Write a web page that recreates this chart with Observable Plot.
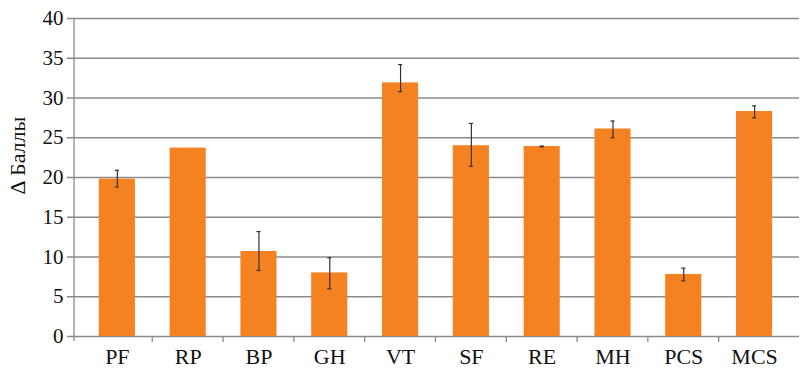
<!DOCTYPE html>
<html>
<head>
<meta charset="utf-8">
<script src="https://cdn.jsdelivr.net/npm/d3@7"></script>
<script src="https://cdn.jsdelivr.net/npm/@observablehq/plot@0.6"></script>
<style>
  html, body { margin: 0; padding: 0; background: #fff; }
  #chart svg { display: block; }
</style>
</head>
<body>
<div id="chart"></div>
<script>
const categories = ["PF", "RP", "BP", "GH", "VT", "SF", "RE", "MH", "PCS", "MCS"];
const values     = [19.8, 23.7, 10.7, 8.0, 31.9, 24.0, 23.9, 26.1, 7.8, 28.3];
const errLow     = [18.8, null, 8.3, 6.0, 30.8, 21.4, 23.85, 25.0, 7.0, 27.5];
const errHigh    = [20.9, null, 13.2, 9.9, 34.2, 26.8, 23.95, 27.1, 8.6, 29.0];
const yTicks     = [0, 5, 10, 15, 20, 25, 30, 35, 40];
const yLabel     = "Δ Баллы";

const data = categories.map((c, i) => ({cat: c, v: values[i], lo: errLow[i], hi: errHigh[i]}));
const errData = data.filter(d => d.lo != null);
const font = "'Liberation Serif', 'Times New Roman', serif";

const chart = Plot.plot({
  width: 800,
  height: 368,
  marginLeft: 74,
  marginRight: 1,
  marginTop: 18,
  marginBottom: 32,
  style: {fontFamily: font, fontSize: "20px", color: "#111", background: "#fff"},
  x: {domain: categories, paddingInner: 0.49, paddingOuter: 0.365, align: 0.48, round: false, label: null},
  y: {domain: [0, 40], label: null},
  marks: [
    Plot.ruleY(yTicks, {y: d => d, stroke: "#8a8a8a", strokeWidth: 1.3, insetLeft: -7}),
    Plot.barY(data, {x: "cat", y: "v", fill: "#F58220"}),
    Plot.ruleX(errData, {x: "cat", y1: "lo", y2: "hi", stroke: "#333", strokeWidth: 1.2}),
    Plot.tickY(errData, {x: "cat", y: "hi", stroke: "#333", strokeWidth: 1.2, inset: 16}),
    Plot.tickY(errData, {x: "cat", y: "lo", stroke: "#333", strokeWidth: 1.2, inset: 16}),
    Plot.axisY({ticks: yTicks, tickSize: 0, tickPadding: 11, label: null}),
    Plot.axisX({tickSize: 0, tickPadding: 12, label: null})
  ]
});

document.getElementById("chart").appendChild(chart);

// Axis line, category boundary ticks and rotated y label, positioned with the plot's scales
const sx = chart.scale("x");
const sy = chart.scale("y");
const svg = d3.select(chart);
const y0 = sy.apply(0), yTop = sy.apply(40);
const xLeft = 74;
svg.append("line")
  .attr("x1", xLeft).attr("x2", xLeft).attr("y1", yTop).attr("y2", y0 + 5)
  .attr("stroke", "#8a8a8a").attr("stroke-width", 1.3);
const step = sx.step;
const gap = (step - sx.bandwidth) / 2;
categories.slice(1).forEach(c => {
  const xb = sx.apply(c) - gap;
  svg.append("line")
    .attr("x1", xb).attr("x2", xb).attr("y1", y0).attr("y2", y0 + 6)
    .attr("stroke", "#8a8a8a").attr("stroke-width", 1.3);
});
svg.append("text")
  .attr("transform", `translate(25, ${sy.apply(22.7)}) rotate(-90)`)
  .attr("text-anchor", "middle")
  .style("font-size", "22px")
  .attr("fill", "#111")
  .text(yLabel);
svg.selectAll("text").style("font-family", font);
svg.selectAll("g[aria-label='y-axis tick label'] text, g[aria-label='y-axis tick label']").style("font-size", "21px");
svg.selectAll("g[aria-label='x-axis tick label'] text, g[aria-label='x-axis tick label']").style("font-size", "22px");
</script>
</body>
</html>
